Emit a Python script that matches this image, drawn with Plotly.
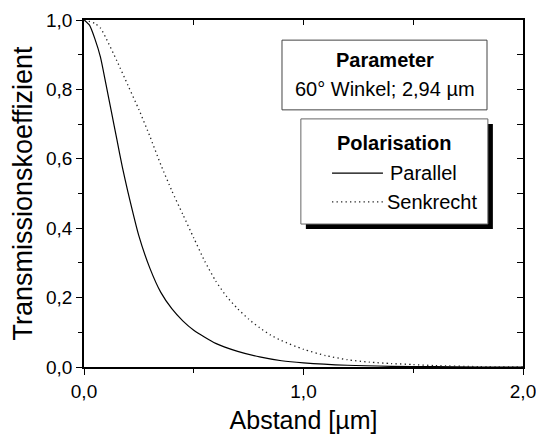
import plotly.graph_objects as go

# Abstand [µm] and transmission coefficients for both polarisations
abstand_par = [0.0, 0.025, 0.05, 0.075, 0.1, 0.125, 0.15, 0.175, 0.2, 0.25, 0.3, 0.35,
               0.4, 0.45, 0.5, 0.6, 0.7, 0.8, 0.9, 1.0, 1.2, 1.4, 1.6, 1.8, 2.0]
parallel = [1.0, 0.985, 0.945, 0.893, 0.815, 0.735, 0.655, 0.575, 0.505, 0.378, 0.285, 0.215,
            0.168, 0.133, 0.106, 0.068, 0.045, 0.029, 0.018, 0.012, 0.005, 0.002, 0.001, 0.0, 0.0]

abstand_senk = [0.0, 0.05, 0.075, 0.1, 0.15, 0.2, 0.25, 0.3, 0.35, 0.4, 0.45, 0.5, 0.55,
                0.6, 0.65, 0.7, 0.75, 0.8, 0.85, 0.9, 1.0, 1.1, 1.2, 1.3, 1.4, 1.5, 1.6,
                1.8, 2.0]
senkrecht = [1.0, 0.99, 0.977, 0.948, 0.882, 0.812, 0.742, 0.665, 0.583, 0.508, 0.44, 0.372,
             0.305, 0.248, 0.203, 0.168, 0.138, 0.113, 0.092, 0.076, 0.051, 0.033, 0.021,
             0.014, 0.01, 0.007, 0.004, 0.001, 0.0]

FONT = "Arial, Liberation Sans, sans-serif"

fig = go.Figure()
fig.add_trace(go.Scatter(x=abstand_par, y=parallel, mode="lines", name="Parallel",
                         line=dict(color="black", width=1.2, shape="spline", smoothing=0.6),
                         showlegend=False))
fig.add_trace(go.Scatter(x=abstand_senk, y=senkrecht, mode="lines", name="Senkrecht",
                         line=dict(color="#222", width=1.3, dash="1.3px,3.2px",
                                   shape="spline", smoothing=0.6),
                         showlegend=False))
# empty trace so the mirrored top/right frame axes get drawn
fig.add_trace(go.Scatter(x=[], y=[], xaxis="x2", yaxis="y2", showlegend=False,
                         hoverinfo="skip"))

fig.update_layout(
    width=536, height=434,
    margin=dict(l=84, r=13, t=20, b=67, autoexpand=False),
    paper_bgcolor="white", plot_bgcolor="white",
    separators=", ",
    font=dict(family=FONT, color="black", size=19),
    xaxis=dict(range=[0, 2], tick0=0, dtick=1, tickformat=".1f", automargin=False,
               showline=True, linecolor="black", linewidth=1.5,
               ticks="outside", ticklen=6, tickwidth=1.2, tickcolor="black",
               minor=dict(dtick=0.5, ticks="outside", ticklen=4, tickwidth=1.2, tickcolor="black"),
               showgrid=False, zeroline=False, ticklabeloverflow="allow",
               tickfont=dict(size=19),
               title=dict(text="Abstand [µm]", font=dict(size=25), standoff=14)),
    yaxis=dict(range=[0, 1], tick0=0, dtick=0.2, tickformat=".1f", automargin=False,
               showline=True, linecolor="black", linewidth=1.5,
               ticks="outside", ticklen=6, tickwidth=1.2, tickcolor="black",
               minor=dict(dtick=0.1, ticks="outside", ticklen=4, tickwidth=1.2, tickcolor="black"),
               showgrid=False, zeroline=False, ticklabeloverflow="allow",
               tickfont=dict(size=19),
               title=dict(text="Transmissionskoeffizient", font=dict(size=27), standoff=6)),
    xaxis2=dict(range=[0, 2], overlaying="x", side="top", anchor="y", automargin=False,
                showline=True, linecolor="black", linewidth=1.5,
                ticks="inside", ticklen=5, tickwidth=1.2, tickcolor="black",
                dtick=0.5, tick0=0, showticklabels=False, showgrid=False, zeroline=False),
    yaxis2=dict(range=[0, 1], overlaying="y", side="right", anchor="x", automargin=False,
                showline=True, linecolor="black", linewidth=1.5,
                ticks="inside", ticklen=6, tickwidth=1.2, tickcolor="black",
                dtick=0.1, tick0=0, showticklabels=False, showgrid=False, zeroline=False),
)

shapes = []
# Parameter box
shapes.append(dict(type="rect", xref="paper", yref="paper",
                   x0=0.451, x1=0.918, y0=0.741, y1=0.942,
                   line=dict(color="#444", width=1), fillcolor="white"))
# Polarisation box with drop shadow
sx, sy = 5 / 439, 5 / 347
shapes.append(dict(type="rect", xref="paper", yref="paper",
                   x0=0.494 + sx, x1=0.920 + sx, y0=0.412 - sy, y1=0.715 - sy,
                   line=dict(width=0), fillcolor="black"))
shapes.append(dict(type="rect", xref="paper", yref="paper",
                   x0=0.494, x1=0.920, y0=0.412, y1=0.715,
                   line=dict(color="#666", width=1), fillcolor="white"))
# Legend line samples
shapes.append(dict(type="line", xref="paper", yref="paper",
                   x0=0.565, x1=0.681, y0=0.559, y1=0.559,
                   line=dict(color="black", width=1.2)))
shapes.append(dict(type="line", xref="paper", yref="paper",
                   x0=0.565, x1=0.681, y0=0.476, y1=0.476,
                   line=dict(color="#222", width=1.3, dash="1.3px,3.2px")))
fig.update_layout(shapes=shapes)

ann = [
    dict(text="<b>Parameter</b>", x=0.685, y=0.885, xanchor="center", yanchor="middle"),
    dict(text="60° Winkel; 2,94 µm", x=0.685, y=0.801, xanchor="center", yanchor="middle"),
    dict(text="<b>Polarisation</b>", x=0.707, y=0.646, xanchor="center", yanchor="middle"),
    dict(text="Parallel", x=0.693, y=0.559, xanchor="left", yanchor="middle"),
    dict(text="Senkrecht", x=0.686, y=0.476, xanchor="left", yanchor="middle"),
]
for a in ann:
    a.update(xref="paper", yref="paper", showarrow=False, font=dict(size=20, family=FONT))
fig.update_layout(annotations=ann)

fig.write_html("out.html")
